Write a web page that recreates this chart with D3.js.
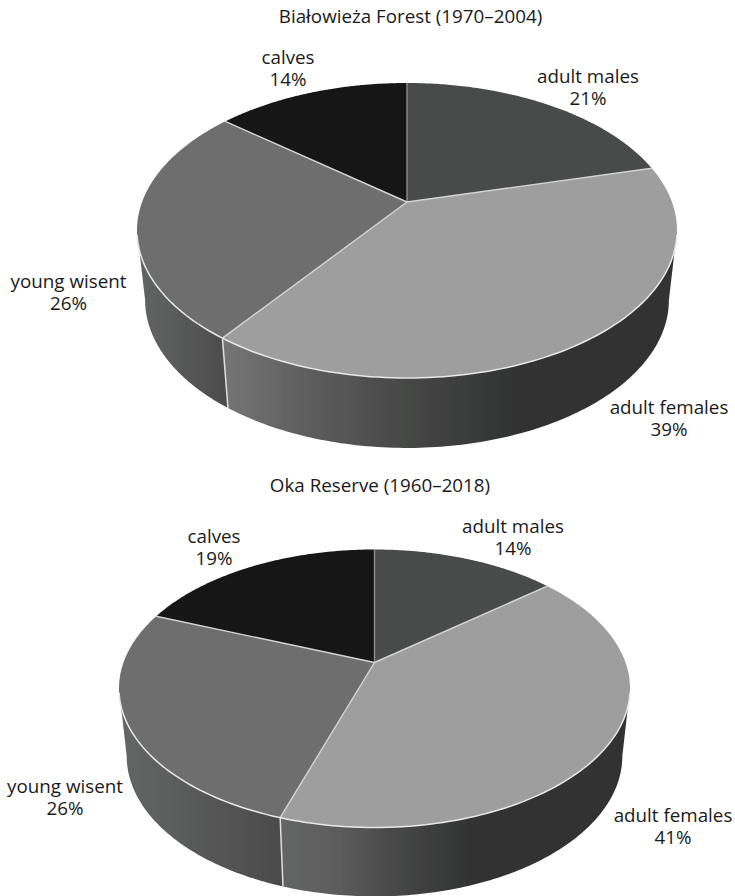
<!DOCTYPE html>
<html><head><meta charset="utf-8">
<script src="https://cdnjs.cloudflare.com/ajax/libs/d3/7.8.5/d3.min.js"></script>
<style>html,body{margin:0;padding:0;background:#fff}svg{display:block}text{font-family:"Open Sans","Noto Sans",sans-serif;font-size:18.8px;fill:#1a1a1a;text-anchor:middle}</style>
</head><body><svg id="c" width="735" height="896"></svg>
<script>
const categories = ["adult males","adult females","young wisent","calves"];
const bialowiezaShares = [21,39,26,14];
const okaShares = [14,41,26,19];
const titles = ["Białowieża Forest (1970–2004)","Oka Reserve (1960–2018)"];
const sliceColors = ["#4a4c4b","#9e9e9e","#6e6e6e","#141414"];

const layouts = [
 {values:bialowiezaShares,title:titles[0],titleX:410.5,titleY:22.5,cx:407,cy:202,rx:270,up:119,down:176,
  wallScaleX:0.97,wallCy:300,wallScaleY:1.003,
  femaleGrad:[-0.68,0.42,"#757575"],youngGrad:[-1,-0.66,"#636565"],
  labels:[[588,83],[669,414],[68.5,288],[288,64]]},
 {values:okaShares,title:titles[1],titleX:380,titleY:492,cx:374.5,cy:662.5,rx:255.5,up:113,down:165,
  wallScaleX:0.97,wallCy:756,wallScaleY:1.01,
  femaleGrad:[-0.37,0.38,"#646666"],youngGrad:[-1,-0.37,"#646666"],
  labels:[[513,533],[673,822],[65,793],[214,543]]}
];

const svg = d3.select("#c");
const defs = svg.append("defs");
defs.append("filter").attr("id","soft").attr("x","-5%").attr("y","-5%").attr("width","110%").attr("height","110%")
  .append("feGaussianBlur").attr("stdDeviation",0.45);
const pie = d3.pie().sort(null).startAngle(0).endAngle(2*Math.PI);

layouts.forEach((L,li)=>{
  const k = -(L.down-L.up)/(L.down+L.up);
  const A = L.down*(1+k);
  const B = L.rx*Math.sqrt(1-k*k);
  const sx = d3.scaleLinear().domain([0,1]).range([L.cx,L.cx+B]);
  const sy = d3.scaleLinear().domain([0,1]).range([L.cy,L.cy+A]);
  const ellipseCy = L.cy + A*(-k)/(1-k*k);
  const top = a=>{
    const u=Math.sin(a), v=-Math.cos(a), d=1+k*v;
    return [sx(u/d), sy(v/d)];
  };
  const bottom = a=>{
    const p=top(a);
    return [L.cx+L.wallScaleX*(p[0]-L.cx), L.wallCy+L.wallScaleY*(p[1]-ellipseCy)];
  };
  const sample = (a0,a1)=>d3.range(0,121).map(i=>a0+(a1-a0)*i/120);
  const line = d3.line();
  const arcs = pie(L.values);
  const side = Math.acos(k);
  const root = svg.append("g");
  const g = root.append("g").attr("filter","url(#soft)");

  const gx = d3.scaleLinear().domain([-1,1]).range([L.cx-L.rx,L.cx+L.rx]);
  const g1 = defs.append("linearGradient").attr("id","wallF"+li).attr("gradientUnits","userSpaceOnUse")
    .attr("x1",gx(L.femaleGrad[0])).attr("x2",gx(L.femaleGrad[1])).attr("y1",0).attr("y2",0);
  [[0,L.femaleGrad[2]],[0.3,"#5c5c5c"],[0.62,"#464746"],[1,"#303231"]].forEach(s=>
    g1.append("stop").attr("offset",s[0]).attr("stop-color",s[1]));
  const g2 = defs.append("linearGradient").attr("id","wallY"+li).attr("gradientUnits","userSpaceOnUse")
    .attr("x1",gx(L.youngGrad[0])).attr("x2",gx(L.youngGrad[1])).attr("y1",0).attr("y2",0);
  [[0,L.youngGrad[2]],[1,"#4b4b4b"]].forEach(s=>g2.append("stop").attr("offset",s[0]).attr("stop-color",s[1]));

  const wallBreak = arcs[1].endAngle;
  const wallPath = (a0,a1)=>{
    const t=sample(a0,a1);
    return line(t.map(top).concat(t.slice().reverse().map(bottom)))+"Z";
  };
  g.append("path").attr("d",wallPath(side,wallBreak)).attr("fill",`url(#wallF${li})`);
  g.append("path").attr("d",wallPath(wallBreak,2*Math.PI-side)).attr("fill",`url(#wallY${li})`);
  g.append("path").attr("d",line([top(wallBreak),bottom(wallBreak)])).attr("stroke","#e0e0e0").attr("stroke-width",1.5).attr("fill","none");

  g.selectAll("path.slice").data(arcs).join("path").attr("class","slice")
    .attr("d",d=>line([[L.cx,L.cy]].concat(sample(d.startAngle,d.endAngle).map(top)))+"Z")
    .attr("fill",(d,i)=>sliceColors[i]);
  g.selectAll("path.edge").data(arcs).join("path").attr("class","edge")
    .attr("d",d=>line([[L.cx,L.cy],top(d.startAngle)]))
    .attr("stroke",(d,i)=>i===0?"#8c8c8c":"#d4d4d4").attr("stroke-width",1.4).attr("fill","none");
  g.append("path").attr("d",line(sample(side+0.03,2*Math.PI-side-0.03).map(top)))
    .attr("stroke","#e8e8e8").attr("stroke-width",1.5).attr("fill","none");

  root.append("text").attr("x",L.titleX).attr("y",L.titleY).text(L.title);
  categories.forEach((c,i)=>{
    const [x,y]=L.labels[i];
    const t=root.append("text").attr("x",x).attr("y",y);
    t.append("tspan").attr("x",x).text(c);
    t.append("tspan").attr("x",x).attr("dy",21.5).text(L.values[i]+"%");
  });
});
</script></body></html>
